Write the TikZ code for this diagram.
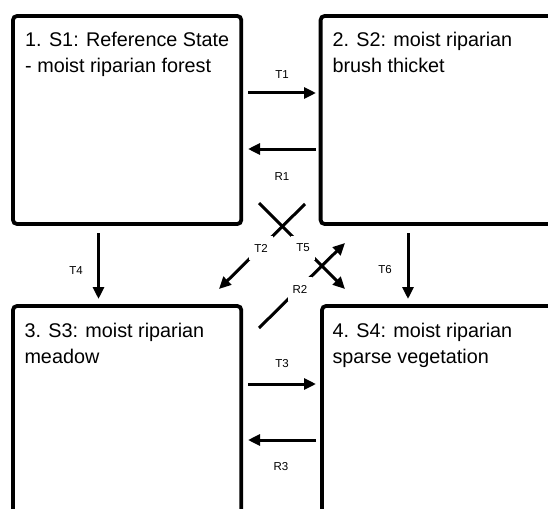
\documentclass[tikz,border=0pt]{standalone}
\usepackage{fontspec}
\setmainfont{Liberation Sans}
\usetikzlibrary{arrows.meta}
\begin{document}
\begin{tikzpicture}[x=1pt,y=-1pt,
  box/.style={draw, line width=3.8pt, rounded corners=4pt, inner sep=0pt, outer sep=0pt, anchor=north west},
  title/.style={anchor=base west, align=left, inner sep=0pt, font=\fontsize{19.8}{26}\selectfont},
  lab/.style={font=\fontsize{11.5}{13}\selectfont, inner sep=1pt},
  cutlab/.style={lab, fill=white, inner xsep=5pt, inner ysep=8pt},
  arr/.style={line width=3pt, -{Triangle[length=12pt,width=11pt]}}]
\useasboundingbox (0,0) rectangle (548,508);
\clip (0,0) rectangle (548,508);
\fill[white] (0,0) rectangle (548,508);
% state boxes
\node[box, minimum width=228.3pt, minimum height=208pt] (s1) at (13,16) {};
\node[box, minimum width=260pt, minimum height=208pt] (s2) at (320.6,16) {};
\node[box, minimum width=228.3pt, minimum height=250pt] (s3) at (13,306) {};
\node[box, minimum width=260pt, minimum height=250pt] (s4) at (322,306) {};
% titles (base anchor = baseline of last line)
\node[title] (s1t) at (25,72.5) {1. S1: Reference State\\- moist riparian forest};
\node[title] (s2t) at (332.3,72.5) {2. S2: moist riparian\\brush thicket};
\node[title] (s3t) at (24.3,363.5) {3. S3: moist riparian\\meadow};
\node[title] (s4t) at (332.3,363.5) {4. S4: moist riparian\\sparse vegetation};
% arrow end points
\coordinate (t1a) at (248,93);   \coordinate (t1b) at (316,93);
\coordinate (r1a) at (316,149);  \coordinate (r1b) at (248,149);
\coordinate (t3a) at (248,384);  \coordinate (t3b) at (316,384);
\coordinate (r3a) at (316,440);  \coordinate (r3b) at (248,440);
\coordinate (t4a) at (98.5,233); \coordinate (t4b) at (98.5,299);
\coordinate (t6a) at (408,233);  \coordinate (t6b) at (408,299);
\coordinate (t2a) at (305,204);  \coordinate (t2b) at (219,289);
\coordinate (t5a) at (259,203);  \coordinate (t5b) at (345,289);
\coordinate (r2a) at (259,328);  \coordinate (r2b) at (345,243);
% connectors
\draw[arr] (t1a) -- (t1b);
\draw[arr] (r1a) -- (r1b);
\draw[arr] (t3a) -- (t3b);
\draw[arr] (r3a) -- (r3b);
\draw[arr] (t4a) -- (t4b);
\draw[arr] (t6a) -- (t6b);
\draw[arr] (t2a) -- (t2b);
\draw[arr] (t5a) -- (t5b);
\draw[arr] (r2a) -- (r2b);
% labels
\node[lab] (lt1) at (282,75) {T1};
\node[lab] (lr1) at (282,177) {R1};
\node[lab] (lt3) at (282,364) {T3};
\node[lab] (lr3) at (281,467) {R3};
\node[lab] (lt4) at (76,271) {T4};
\node[lab] (lt6) at (385,270) {T6};
\node[cutlab] (lt2) at (261,248) {T2};
\node[cutlab] (lt5) at (303,248) {T5};
\node[cutlab] (lr2) at (300,289) {R2};
\end{tikzpicture}
\end{document}
